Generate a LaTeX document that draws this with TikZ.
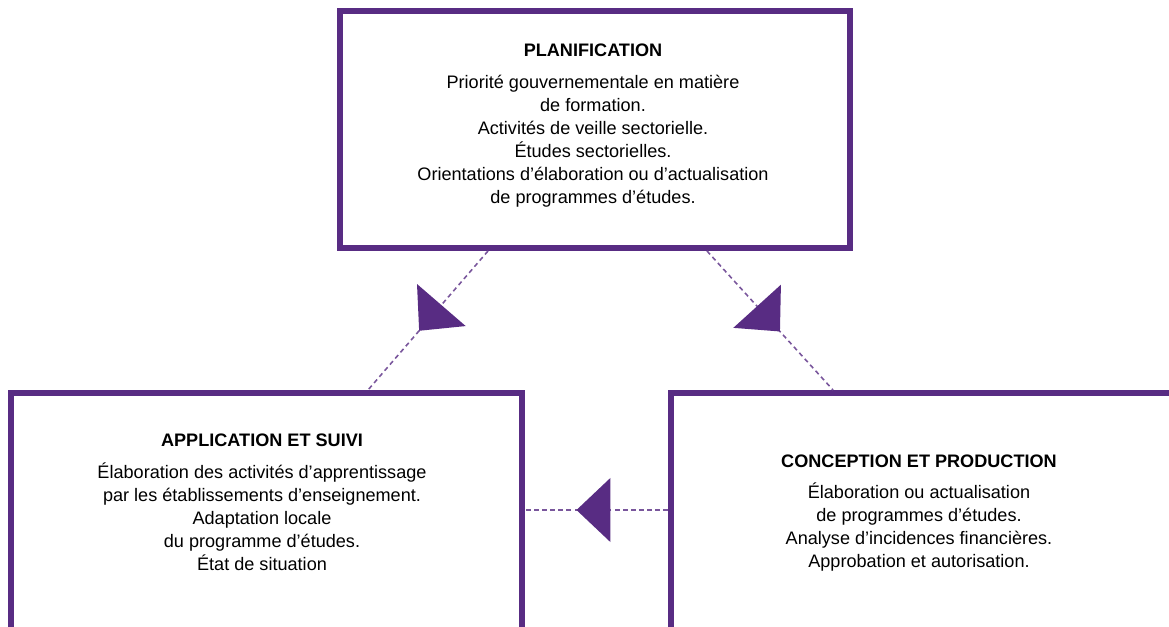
\documentclass[tikz,border=0pt]{standalone}
\usepackage{fontspec}
\setmainfont{Liberation Sans}
\usetikzlibrary{arrows.meta, positioning, decorations.markings}
\definecolor{phasepurple}{RGB}{88,44,131}

\begin{document}
\begin{tikzpicture}[font=\fontsize{10.3}{13.1}\selectfont,
    phase/.style={draw=phasepurple, line width=0.12cm, inner sep=0pt},
    phasetext/.style={align=center, inner sep=0pt},
    phaselink/.style={draw=phasepurple!80, line width=0.9pt, dash pattern=on 2.6pt off 2pt,
      postaction={decorate},
      decoration={markings, mark=at position #1 with {\arrow{Triangle[length=0.68cm, width=1.28cm, color=phasepurple]}}}}]
  \useasboundingbox (0,0) rectangle (23.38,12.52);
  \clip (0,0) rectangle (23.38,12.52);
  % boxes
  \node[phase, minimum width=10.2cm, minimum height=4.74cm] (planbox) at (11.9,9.93) {};
  \node[phase, minimum width=10.22cm, minimum height=6cm] (applbox) at (5.33,1.66) {};
  \node[phase, minimum width=10.1cm, minimum height=6cm] (concbox) at (18.47,1.66) {};
  % texts
  \node[phasetext] (plan) at (11.86,10.0) {\textbf{PLANIFICATION}\\[5pt]
    Priorité gouvernementale en matière\\ de formation.\\
    Activités de veille sectorielle.\\ Études sectorielles.\\
    Orientations d’élaboration ou d’actualisation\\ de programmes d’études.};
  \node[phasetext] (appl) at (5.24,2.48) {\textbf{APPLICATION ET SUIVI}\\[5pt]
    Élaboration des activités d’apprentissage\\
    par les établissements d’enseignement.\\ Adaptation locale\\
    du programme d’études.\\ État de situation};
  \node[phasetext] (conc) at (18.38,2.26) {\textbf{CONCEPTION ET PRODUCTION}\\[5pt]
    Élaboration ou actualisation\\ de programmes d’études.\\
    Analyse d’incidences financières.\\ Approbation et autorisation.};
  % links
  \draw[phaselink=0.575] ([xshift=-2.14cm]planbox.south) -- ([xshift=2.03cm]applbox.north);
  \draw[phaselink=0.58] ([xshift=2.24cm]planbox.south) -- ([xshift=-1.81cm]concbox.north);
  \draw[phaselink=0.64] ([yshift=0.06cm]conc -| concbox.west) -- ([yshift=0.06cm]conc -| applbox.east);
\end{tikzpicture}
\end{document}
